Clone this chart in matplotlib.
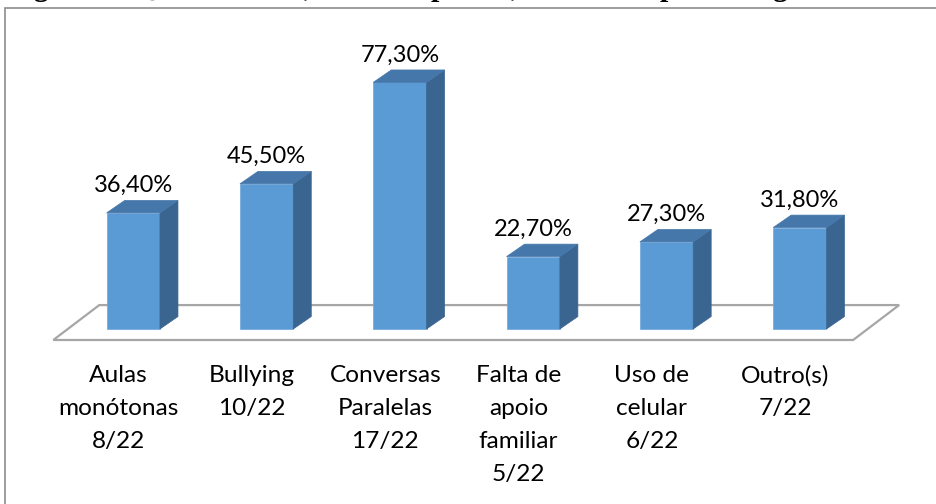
import matplotlib.pyplot as plt
from matplotlib.patches import Polygon, Rectangle

categorias = ['Aulas\nmonótonas', 'Bullying', 'Conversas\nParalelas',
              'Falta de\napoio\nfamiliar', 'Uso de\ncelular', 'Outro(s)']
contagens = ['8/22', '10/22', '17/22', '5/22', '6/22', '7/22']
percentuais = [36.4, 45.5, 77.3, 22.7, 27.3, 31.8]

titulo = 'Figura 8: Quais fatores, em sua opinião, afetam a aprendizagem?'

cor_frente = '#5B9BD5'
cor_lado = '#3A6591'
cor_topo = '#4677AA'

fig = plt.figure(figsize=(9.37, 5.04), dpi=100)
ax = fig.add_axes([0, 0, 1, 1])
ax.set_xlim(-1.0, 6.029)
ax.set_ylim(-54.86, 103.13)
ax.axis('off')

n = len(percentuais)
larg = 0.4      # largura da face frontal
dx, dy = 0.135, 3.9   # profundidade 3D

# piso
fx0, fx1 = -0.6, n - 0.6
fy, by = -3.45, 7.5
sx = 0.345
piso = Polygon([(fx0, fy), (fx1, fy), (fx1 + sx, by), (fx0 + sx, by)],
               closed=True, fill=False, edgecolor='#A6A6A6', lw=1.6, zorder=1)
ax.add_patch(piso)

for i, v in enumerate(percentuais):
    x0 = i - larg / 2
    x1 = i + larg / 2
    # frente
    ax.add_patch(Polygon([(x0, 0), (x1, 0), (x1, v), (x0, v)],
                         closed=True, facecolor=cor_frente, edgecolor='#6FA8DC',
                         lw=0.5, zorder=3))
    # lado
    ax.add_patch(Polygon([(x1, 0), (x1 + dx, dy), (x1 + dx, v + dy), (x1, v)],
                         closed=True, facecolor=cor_lado, edgecolor=cor_lado,
                         lw=0.5, zorder=3))
    # topo
    ax.add_patch(Polygon([(x0, v), (x1, v), (x1 + dx, v + dy), (x0 + dx, v + dy)],
                         closed=True, facecolor=cor_topo, edgecolor=cor_topo,
                         lw=0.5, zorder=3))
    rot = ('%.2f%%' % v).replace('.', ',')
    ax.text(i, v + dy + 2.6, rot, ha='center', va='baseline',
            fontsize=17, family='Lato', color='black', zorder=4)
    ax.text(i - 0.11, -11.3, categorias[i] + '\n' + contagens[i],
            ha='center', va='top', fontsize=17.6, family='Lato',
            linespacing=1.7, color='black')

# moldura
fig.add_artist(Rectangle((5 / 937, -0.1), 1.2, 1.084, transform=fig.transFigure,
                         fill=False, edgecolor='#8C8C8C', lw=1.2))

# título da figura, cortado no topo da imagem
fig.text(7 / 937, 1.0 + 4 / 504, titulo, ha='left', va='baseline', fontsize=21.6,
         family='Liberation Serif', fontweight='bold')

fig.savefig('out.png', dpi=100)
